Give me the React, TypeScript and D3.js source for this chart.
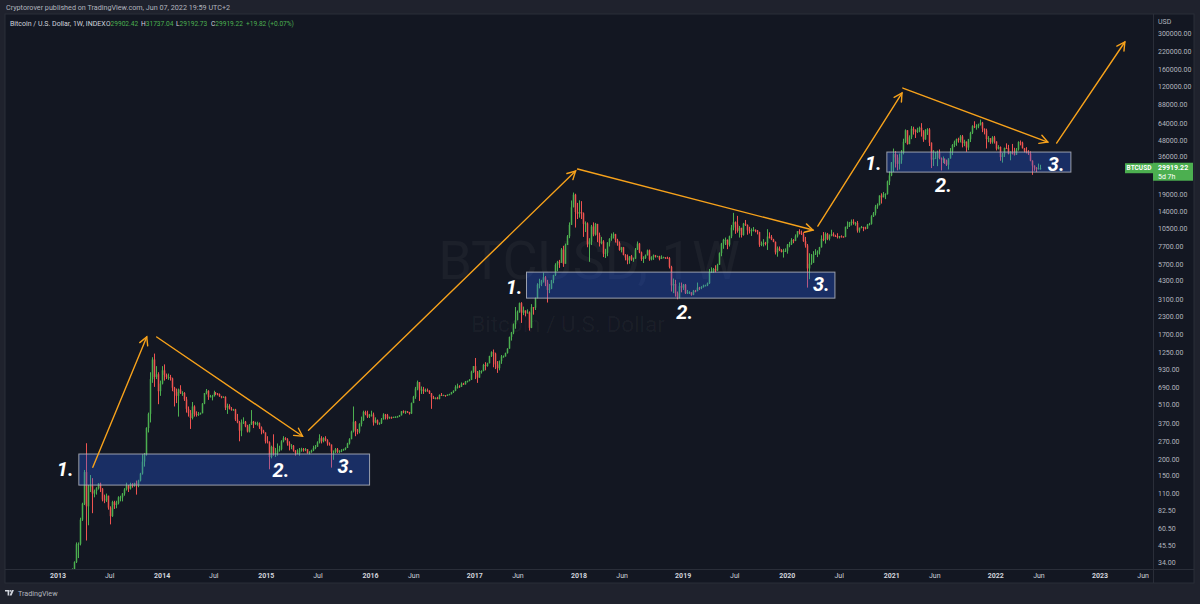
import React from "react";
import * as d3 from "d3";

// ---------- DATA ----------
// Weekly candles per year: [close, high, low]; open = previous close
const firstOpen = 24.7;
const yearStarts = ["2013-02-11", "2014-01-06", "2015-01-05", "2016-01-04", "2017-01-02", "2018-01-01", "2019-01-07", "2020-01-06", "2021-01-04", "2022-01-03"];

const w2013 = [
  [27.0, 27.9, 24.6], [29.9, 31.0, 26.5], [34.5, 35.0, 29.0], [46.9, 48.4, 34.0], [47.2, 48.4, 37.0], [71.5, 74.0, 46.0], [94.0, 95.7, 70.0],
  [162, 168, 92], [90, 266, 50], [127, 130, 65], [128, 154, 115], [112, 146, 80], [117, 120, 105], [123, 125, 110], [133, 134, 120], [122, 135, 115],
  [101, 123, 98], [100, 110, 95], [108, 112, 97], [88, 108, 85], [76, 90, 66], [97, 99, 75], [92, 99, 86], [95, 99, 87], [105, 107, 93],
  [105, 108, 98], [112, 113, 98], [120, 123, 108], [128, 135, 118], [122, 130, 115], [132, 135, 120], [128, 134, 124], [134, 135, 126], [130, 140, 110],
  [140, 142, 125], [158, 160, 138], [194, 220, 155], [220, 225, 178], [345, 350, 215], [440, 450, 320], [800, 900, 380], [1120, 1165, 750],
  [830, 1240, 700], [870, 1000, 800], [650, 900, 520], [740, 780, 600], [930, 1000, 730],
];
const w2014 = [
  [860, 1030, 780], [830, 880, 800], [830, 880, 790], [810, 860, 780], [690, 820, 650], [640, 700, 500], [600, 680, 530], [670, 680, 420],
  [630, 720, 620], [630, 650, 600], [565, 640, 550], [480, 590, 450], [445, 500, 420], [410, 470, 340], [500, 540, 400], [440, 510, 420],
  [435, 460, 420], [440, 455, 425], [445, 450, 435], [525, 530, 445], [630, 630, 520], [655, 675, 615], [590, 660, 560], [595, 610, 585],
  [595, 610, 555], [635, 655, 595], [625, 640, 610], [620, 630, 605], [595, 625, 590], [585, 600, 575], [590, 595, 580], [490, 595, 470],
  [505, 525, 440], [480, 520, 475], [475, 495, 465], [475, 480, 465], [400, 480, 390], [380, 440, 375], [330, 390, 275], [380, 400, 300],
  [385, 415, 370], [355, 390, 350], [325, 365, 320], [365, 370, 320], [385, 470, 365], [375, 390, 345], [375, 385, 365], [375, 385, 360],
  [350, 380, 340], [330, 355, 310], [320, 335, 315], [275, 320, 265],
];
const w2015 = [
  [270, 300, 265], [210, 275, 170], [250, 255, 205], [225, 310, 215], [225, 245, 210], [235, 265, 215], [240, 255, 230], [275, 280, 235],
  [290, 300, 270], [285, 295, 280], [265, 290, 255], [255, 275, 235], [255, 262, 240], [235, 258, 230], [225, 236, 215], [225, 240, 220],
  [235, 245, 215], [240, 246, 230], [237, 245, 230], [240, 245, 232], [225, 240, 222], [228, 232, 220], [235, 238, 226], [245, 255, 232],
  [250, 258, 240], [270, 275, 250], [290, 310, 265], [275, 300, 265], [290, 295, 270], [280, 300, 275], [265, 285, 255], [260, 270, 255],
  [230, 260, 175], [230, 235, 200], [240, 245, 225], [230, 245, 225], [232, 236, 225], [235, 240, 228], [240, 242, 234], [245, 248, 236],
  [265, 268, 245], [285, 290, 260], [325, 330, 285], [385, 500, 320], [330, 390, 300], [325, 340, 310], [370, 375, 315], [395, 420, 355],
  [455, 465, 390], [440, 465, 430], [420, 465, 410], [430, 440, 410],
];
const w2016 = [
  [435, 465, 420], [380, 450, 360], [395, 415, 375], [375, 400, 365], [375, 380, 365], [400, 410, 370], [435, 445, 400], [430, 440, 400],
  [410, 440, 400], [415, 420, 405], [410, 420, 405], [417, 420, 410], [420, 422, 410], [420, 425, 415], [430, 432, 418], [460, 462, 428],
  [455, 468, 445], [460, 465, 440], [455, 462, 448], [443, 455, 435], [530, 535, 440], [590, 600, 530], [680, 700, 570], [760, 780, 660],
  [660, 760, 550], [670, 705, 620], [650, 700, 620], [660, 680, 640], [655, 680, 645], [625, 660, 620], [585, 630, 480], [570, 600, 570],
  [580, 585, 565], [570, 590, 565], [610, 615, 565], [608, 630, 600], [608, 612, 600], [605, 608, 590], [612, 615, 600], [618, 622, 606],
  [640, 642, 615], [655, 660, 630], [700, 720, 650], [705, 740, 680], [700, 720, 690], [740, 755, 700], [730, 750, 725], [765, 775, 730],
  [775, 780, 755], [790, 800, 770], [910, 925, 790], [1000, 1000, 890],
];
const w2017 = [
  [900, 1150, 800], [820, 920, 750], [920, 935, 820], [920, 930, 880], [1020, 1040, 915], [1000, 1070, 930], [1050, 1060, 990], [1190, 1195, 1050],
  [1270, 1290, 1170], [1240, 1330, 980], [1030, 1260, 950], [965, 1090, 890], [1090, 1100, 930], [1180, 1210, 1040], [1180, 1200, 1160], [1250, 1260, 1180],
  [1350, 1360, 1240], [1650, 1660, 1350], [1780, 1800, 1550], [2050, 2080, 1730], [2200, 2760, 1900], [2550, 2600, 2200], [2950, 2980, 2500], [2500, 3000, 2100],
  [2600, 2780, 2400], [2500, 2600, 2350], [2510, 2650, 2480], [1930, 2560, 1840], [2750, 2900, 1920], [2730, 2750, 2420], [3220, 3250, 2620], [4050, 4150, 3200],
  [4100, 4480, 3800], [4350, 4400, 3950], [4600, 4980, 4200], [4200, 4700, 3950], [3700, 4400, 2980], [3780, 4100, 3500], [4370, 4400, 3750], [4780, 4800, 4150],
  [5700, 5850, 4700], [6000, 6100, 5100], [5900, 6200, 5400], [7400, 7600, 6000], [5800, 7900, 5500], [8000, 8200, 5800], [9300, 9500, 8000], [11300, 11800, 9000],
  [15300, 17200, 11300], [19000, 19700, 15600], [14100, 19300, 10800], [13700, 16500, 12500],
];
const w2018 = [
  [14100, 17250, 12800], [13800, 17000, 12500], [11500, 14000, 9200], [11600, 12000, 10000], [8100, 11800, 7700], [8500, 9000, 6000], [11000, 11300, 8000],
  [9600, 11800, 9300], [11500, 11700, 9400], [9500, 11500, 8400], [8250, 9900, 7800], [8500, 9200, 8100], [6900, 8700, 6500], [7000, 7500, 6400],
  [8350, 8400, 6600], [8900, 9000, 7800], [9350, 9750, 8600], [9650, 9950, 8950], [8700, 9700, 8350], [8250, 8900, 7900], [7350, 8500, 7250],
  [7700, 7750, 7050], [6750, 7750, 6700], [6450, 6850, 6150], [6150, 6800, 5750], [6600, 6600, 5800], [6250, 6750, 6100], [6350, 6450, 6000],
  [7400, 7600, 6300], [8200, 8500, 7350], [7050, 8300, 6950], [6300, 7150, 6100], [6400, 6600, 5880], [6700, 6800, 6300], [7300, 7400, 6700],
  [6250, 7400, 6100], [6500, 6600, 6150], [6700, 6800, 6200], [6600, 6750, 6450], [6600, 6650, 6500], [6300, 6650, 6150], [6450, 6700, 6350],
  [6480, 6550, 6400], [6420, 6480, 6300], [6380, 6550, 6350], [5500, 6500, 5350], [4000, 5600, 3600], [4100, 4500, 3500], [3500, 4400, 3300],
  [3250, 3600, 3150], [3950, 4200, 3200], [3850, 4200, 3550], [4050, 4100, 3700],
];
const w2019 = [
  [3500, 4100, 3450], [3550, 3700, 3450], [3550, 3620, 3450], [3400, 3500, 3350], [3650, 3700, 3380], [3620, 3700, 3550], [3850, 4200, 3650],
  [3820, 3900, 3700], [3900, 3950, 3750], [4000, 4050, 3850], [4000, 4050, 3950], [4150, 4200, 3950], [5050, 5300, 4100], [5050, 5450, 4950],
  [5300, 5400, 4950], [5150, 5650, 5000], [5700, 5800, 5150], [6950, 7050, 5700], [8200, 8300, 6600], [8750, 8900, 7500], [8750, 9100, 8000],
  [8050, 8800, 7450], [9300, 9400, 7800], [10800, 11300, 9000], [11850, 13900, 10300], [11400, 12000, 9700], [10200, 13200, 9900], [10750, 11100, 9100],
  [9500, 10700, 9100], [11550, 11700, 9400], [11300, 12300, 11100], [10300, 11400, 9550], [10150, 10950, 9750], [10350, 10650, 9350], [10400, 10900, 10100],
  [10300, 10450, 9950], [10000, 10350, 9600], [8050, 10050, 7750], [8150, 8500, 7850], [8300, 8850, 7800], [8250, 8450, 7950], [9250, 10500, 7350],
  [9200, 9950, 8950], [8800, 9500, 8700], [8450, 8900, 8400], [7050, 8500, 6800], [7550, 7800, 6550], [7350, 7800, 7200], [7100, 7450, 7050],
  [7250, 7500, 6450], [7250, 7550, 7100], [8050, 8150, 6900],
];
const w2020 = [
  [8100, 8450, 7700], [8700, 9000, 8000], [8600, 8850, 8250], [9300, 9600, 8550], [10150, 10150, 9100], [9900, 10500, 9600], [9650, 10250, 9500],
  [8550, 9950, 8450], [7950, 9200, 7650], [5350, 8150, 3850], [5800, 6950, 4450], [5900, 6850, 5700], [6800, 7200, 5900], [6900, 7450, 6750],
  [7150, 7300, 6500], [7700, 7750, 6800], [8900, 9450, 7650], [8750, 10000, 8550], [9700, 9950, 8200], [8900, 9850, 8700], [9450, 9600, 8650],
  [9650, 10400, 9300], [9350, 9950, 9250], [9300, 9550, 9200], [9150, 9800, 8950], [9300, 9350, 8950], [9250, 9450, 9100], [9200, 9300, 9100],
  [10950, 10950, 9150], [11100, 12000, 10550], [11850, 11900, 10900], [11950, 12400, 11200], [11650, 12450, 11350], [11700, 11900, 11150], [10250, 12100, 9900],
  [10750, 10800, 9900], [10900, 11100, 10650], [10750, 10950, 10150], [10650, 10950, 10450], [11350, 11500, 10550], [11500, 11700, 11200], [13050, 13350, 11350],
  [13800, 14100, 12950], [15500, 15950, 13300], [15950, 16350, 14900], [18700, 18800, 15800], [18150, 19450, 16300], [19150, 19900, 18200], [19250, 19450, 17600],
  [23850, 24200, 19000], [26450, 28400, 22400], [33000, 33300, 26100],
];
const w2021 = [
  [38150, 41950, 28000], [36000, 40100, 30300], [32250, 37850, 28850], [34300, 38500, 29250], [38900, 40900, 32300], [47150, 49700, 37950], [57400, 58300, 46200],
  [45250, 57550, 44900], [50950, 52650, 46300], [59000, 61700, 49300], [57350, 61000, 53300], [55800, 58400, 50300], [58200, 60000, 54800], [60000, 61200, 55500],
  [56200, 64900, 51500], [49000, 57500, 47050], [57800, 58500, 48800], [58250, 59500, 53000], [46400, 59600, 43800], [34700, 46600, 30000], [35650, 40800, 31100],
  [35800, 39500, 35000], [39100, 40500, 31000], [35500, 41300, 34900], [34700, 36000, 28800], [35300, 36600, 32700], [34250, 35100, 32200], [31800, 34700, 31100],
  [35400, 35400, 29300], [39850, 42300, 35250], [44600, 45300, 37500], [47050, 48100, 43000], [49300, 49800, 43950], [48850, 50500, 46400], [51700, 52900, 46550],
  [46000, 52950, 42800], [47250, 48800, 43700], [42700, 47350, 39650], [49250, 49500, 40800], [54950, 56000, 46900], [61500, 62600, 53800], [61300, 67000, 59600],
  [61300, 63700, 58000], [63300, 64300, 59500], [65500, 69000, 62300], [59000, 66300, 55600], [57300, 59300, 53500], [49400, 59000, 42000], [50100, 51900, 46750],
  [46700, 50100, 45500], [50800, 51900, 45600], [47300, 52100, 45700],
];
const w2022 = [
  [41850, 47500, 40600], [43100, 44450, 41300], [36250, 43500, 34000], [37900, 38900, 32950], [42400, 42650, 36300], [42200, 45850, 41700],
  [38350, 44700, 37950], [39100, 40000, 34300], [38400, 45400, 37900], [37800, 42500, 37200], [41300, 42300, 37600], [46800, 47500, 40500],
  [46400, 48200, 44300], [42150, 47200, 42000], [40400, 42400, 39200], [39450, 42950, 38600], [38450, 40800, 37600], [34050, 40000, 33700],
  [31300, 34250, 26700], [30300, 31400, 28650], [29450, 30500, 28000], [29902.42, 32400, 29250], [29919.22, 31737.04, 29192.73],
];
const yearlyWeeks = [w2013, w2014, w2015, w2016, w2017, w2018, w2019, w2020, w2021, w2022];

// Axis ticks
const priceTicks = [300000, 220000, 160000, 120000, 88000, 64000, 48000, 36000, 19000, 14000, 10500, 7700, 5700, 4300, 3100, 2300, 1700, 1250, 930, 690, 510, 370, 270, 200, 150, 110, 82.5, 60.5, 45.5, 34];
const timeTickDates = ["2013-01-01", "2013-07-01", "2014-01-01", "2014-07-01", "2015-01-01", "2015-07-01", "2016-01-01", "2016-06-01", "2017-01-01", "2017-06-01", "2018-01-01", "2018-06-01", "2019-01-01", "2019-07-01", "2020-01-01", "2020-07-01", "2021-01-01", "2021-06-01", "2022-01-01", "2022-06-01", "2023-01-01", "2023-06-01"];
const timeTickLabels = ["2013", "Jul", "2014", "Jul", "2015", "Jul", "2016", "Jun", "2017", "Jun", "2018", "Jun", "2019", "Jul", "2020", "Jul", "2021", "Jun", "2022", "Jun", "2023", "Jun"];

// Legend values
const legendKeys = ["O", "H", "L", "C"];
const legendVals = ["29902.42", "31737.04", "29192.73", "29919.22"];
const legendChange = "+19.82 (+0.07%)";

// Annotations (date, price)
const zoneStarts = ["2013-03-15", "2017-07-01", "2020-12-15"];
const zoneEnds = ["2015-12-29", "2020-06-16", "2022-09-21"];
const zoneHighs = [221, 5025, 39500];
const zoneLows = [129.6, 3214, 28000];
const arrowFrom = [["2013-05-03", 176], ["2013-12-13", 1650], ["2015-05-29", 333], ["2017-12-27", 29500], ["2020-04-17", 11070], ["2021-02-09", 118600], ["2022-08-02", 46100]];
const arrowTo = [["2013-11-08", 1650], ["2015-05-08", 300], ["2017-12-20", 28500], ["2020-03-31", 10350], ["2021-02-06", 108900], ["2022-07-02", 46900], ["2023-03-29", 261500]];
const stepTexts = ["1.", "2.", "3.", "1.", "2.", "3.", "1.", "2.", "3."];
const stepDates = ["2012-12-28", "2015-01-23", "2015-09-08", "2017-04-19", "2018-12-08", "2020-03-31", "2020-09-29", "2021-06-02", "2022-07-02"];
const stepPrices = [151, 148, 159, 3444, 2240, 3625, 28990, 19870, 28500];

const lastPrice = 29919.22;

// ---------- LAYOUT ----------
const W = 1200;
const H = 604;
const paneL = 5, paneR = 1153, paneT = 14, paneB = 569, frameR = 1194, frameB = 583;
const UP = "#4caf50";
const DOWN = "#ef5350";
const FONT = "Roboto, 'Liberation Sans', sans-serif";

const parse = (s: string) => new Date(s + "T00:00:00Z");

function buildCandles() {
  const out: { date: Date; open: number; close: number; high: number; low: number }[] = [];
  let prev = firstOpen;
  yearlyWeeks.forEach((arr, yi) => {
    const start = parse(yearStarts[yi]);
    arr.forEach((d, i) => {
      const date = new Date(start.getTime() + i * 7 * 86400000);
      const [c, h, l] = d;
      out.push({ date, open: prev, close: c, high: Math.max(h, prev, c), low: Math.min(l, prev, c) });
      prev = c;
    });
  });
  return out;
}

export default function App() {
  const candles = React.useMemo(buildCandles, []);
  const x = d3.scaleUtc().domain([parse("2013-01-01"), parse("2023-01-01")]).range([58, 1100]);
  const y = d3.scaleLog().domain([34, 300000]).range([563, 34]);

  const arrowHead = (x1: number, y1: number, x2: number, y2: number) => {
    const a = Math.atan2(y2 - y1, x2 - x1);
    const L = 9, s = 0.5;
    const p1 = [x2 - L * Math.cos(a - s), y2 - L * Math.sin(a - s)];
    const p2 = [x2 - L * Math.cos(a + s), y2 - L * Math.sin(a + s)];
    return `M${p1[0]},${p1[1]}L${x2},${y2}L${p2[0]},${p2[1]}`;
  };

  const py = y(lastPrice);
  const legendX = [106, 141, 176, 211];

  return (
    <svg width={W} height={H} style={{ position: "absolute", left: 0, top: 0, display: "block" }} fontFamily={FONT}>
      <defs>
        <clipPath id="pane">
          <rect x={paneL} y={paneT} width={paneR - paneL} height={paneB - paneT} />
        </clipPath>
      </defs>
      <rect x={0} y={0} width={W} height={H} fill="#1f222d" />
      <text x={6} y={10} fontSize={7.2} fill="#b2b5be">Cryptorover published on TradingView.com, Jun 07, 2022 19:59 UTC+2</text>
      <rect x={paneL} y={paneT} width={frameR - paneL} height={frameB - paneT} fill="#131722" stroke="#2a2e39" strokeWidth={1} />
      <line x1={paneR + 0.5} x2={paneR + 0.5} y1={paneT} y2={frameB} stroke="#2a2e39" />
      <line x1={paneL} x2={frameR} y1={paneB + 0.5} y2={paneB + 0.5} stroke="#2a2e39" />

      {/* watermark */}
      <text x={589} y={279} textAnchor="middle" fontSize={54} fill="#ffffff" fillOpacity={0.04}>BTCUSD, 1W</text>
      <text x={568} y={332} textAnchor="middle" fontSize={22.5} fill="#ffffff" fillOpacity={0.04}>Bitcoin / U.S. Dollar</text>

      {/* candles */}
      <g clipPath="url(#pane)">
        {candles.map((c, i) => {
          const cx = Math.round(x(c.date)) + 0.5;
          const col = c.close >= c.open ? UP : DOWN;
          const top = y(Math.max(c.open, c.close));
          const bot = y(Math.min(c.open, c.close));
          return (
            <g key={i}>
              <line x1={cx} x2={cx} y1={y(c.high)} y2={y(c.low)} stroke={col} strokeWidth={1} />
              <rect x={cx - 0.75} y={top} width={1.5} height={Math.max(1, bot - top)} fill={col} />
            </g>
          );
        })}
      </g>

      {/* zones, arrows, step labels */}
      <g clipPath="url(#pane)">
        {zoneStarts.map((s, i) => {
          const x0 = x(parse(s)), x1 = x(parse(zoneEnds[i]));
          const y0 = y(zoneHighs[i]), y1 = y(zoneLows[i]);
          return <rect key={i} x={x0} y={y0} width={x1 - x0} height={y1 - y0} fill="rgb(41,98,255)" fillOpacity={0.3} stroke="#b2b5be" strokeOpacity={0.85} strokeWidth={1} />;
        })}
        {arrowFrom.map((f, i) => {
          const t = arrowTo[i];
          const x1 = x(parse(f[0] as string)), y1 = y(f[1] as number);
          const x2 = x(parse(t[0] as string)), y2 = y(t[1] as number);
          return (
            <g key={i} stroke="#f7a21b" strokeWidth={1.4} fill="none" strokeLinecap="round">
              <line x1={x1} y1={y1} x2={x2} y2={y2} />
              <path d={arrowHead(x1, y1, x2, y2)} />
            </g>
          );
        })}
        {stepTexts.map((t, i) => (
          <text key={i} x={x(parse(stepDates[i]))} y={y(stepPrices[i])} fontSize={20} fontWeight={700} fontStyle="italic" fill="#ffffff">{t}</text>
        ))}
      </g>

      {/* legend */}
      <text x={10} y={26} fontSize={7} fill="#d1d4dc">Bitcoin / U.S. Dollar, 1W, INDEX</text>
      {legendKeys.map((k, i) => (
        <text key={k} x={legendX[i]} y={26} fontSize={6.6}>
          <tspan fill="#d1d4dc">{k}</tspan>
          <tspan fill={UP}>{legendVals[i]}</tspan>
        </text>
      ))}
      <text x={246} y={26} fontSize={6.6} fill={UP}>{legendChange}</text>

      {/* price axis */}
      <text x={1158} y={22} fontSize={7} fill="#b2b5be" dominantBaseline="middle">USD</text>
      {priceTicks.map((v) => (
        <text key={v} x={1158} y={y(v)} fontSize={7} fill="#b2b5be" dominantBaseline="middle">{v.toFixed(2)}</text>
      ))}
      <rect x={1125} y={py - 5} width={28} height={10} fill={UP} />
      <text x={1139} y={py} fontSize={6.5} fontWeight={700} fill="#ffffff" textAnchor="middle" dominantBaseline="middle">BTCUSD</text>
      <rect x={paneR} y={py - 5.5} width={frameR - paneR - 1} height={18} fill={UP} />
      <text x={1158} y={py} fontSize={7} fontWeight={700} fill="#ffffff" dominantBaseline="middle">{lastPrice.toFixed(2)}</text>
      <text x={1158} y={py + 8.5} fontSize={7} fill="#ffffff" dominantBaseline="middle">5d 7h</text>

      {/* time axis */}
      {timeTickDates.map((d, i) => (
        <text key={d} x={x(parse(d))} y={576.5} fontSize={7} fontWeight={/^\d/.test(timeTickLabels[i]) ? 700 : 400} fill="#d1d4dc" textAnchor="middle" dominantBaseline="middle">{timeTickLabels[i]}</text>
      ))}

      {/* footer */}
      <g transform="translate(5,590)" fill="#d1d4dc">
        <path d="M0,0h4.2v5.5h-1.6v-4h-2.6z" />
        <circle cx={5.3} cy={0.9} r={0.9} />
        <path d="M6.8,0h2.1l-2.3,5.5h-2z" />
      </g>
      <text x={18} y={594} fontSize={7.2} fill="#b2b5be" dominantBaseline="middle">TradingView</text>
    </svg>
  );
}
